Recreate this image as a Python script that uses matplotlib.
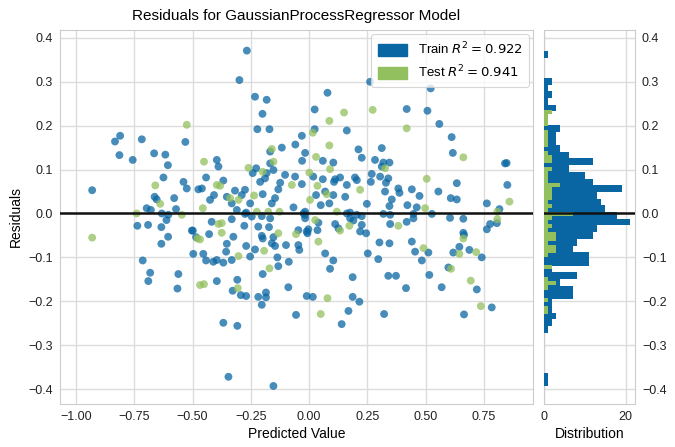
import numpy as np
import matplotlib
matplotlib.use("Agg")
import matplotlib.pyplot as plt
from matplotlib.patches import Patch

plt.rcParams['font.family'] = ['Liberation Sans', 'DejaVu Sans']

# Du lieu doc tu hinh: (gia tri du doan, phan du)
train_x = [-0.811, -0.833, -0.718, -0.531, -0.814, -0.757, -0.665, -0.617, -0.606, -0.625,
           -0.539, -0.525, -0.931, -0.663, -0.654, -0.579, -0.697, -0.679, -0.571, -0.632,
           -0.604, -0.475, -0.612, -0.737, -0.691, -0.634, -0.605, -0.634, -0.503, -0.485,
           -0.497, -0.714, -0.682, -0.690, -0.561, -0.565,
           -0.267, -0.299, -0.232, -0.182, -0.200, -0.222, -0.170, -0.031, -0.059, -0.117,
           -0.167, -0.017, -0.030, -0.167, -0.396, -0.389, -0.227, -0.242, -0.182, -0.153,
           -0.103, -0.210, -0.189, -0.124, -0.060, -0.031, -0.442, -0.368, -0.460, -0.408,
           -0.425, -0.318, -0.275, -0.289, -0.199, -0.132, -0.146, -0.160, -0.353, -0.332,
           -0.253, -0.067, -0.270, -0.017, -0.310,
           -0.275, -0.246, -0.203, -0.167, -0.017, -0.418, -0.332, -0.278, -0.218, -0.172,
           -0.499, -0.429, -0.325, -0.203, -0.199, -0.153, -0.046, -0.010, -0.353, -0.160,
           -0.146, -0.099, -0.046, -0.042, -0.270, -0.232, -0.356, -0.454, -0.253, -0.442,
           -0.411, -0.396, -0.368, -0.332, -0.136, -0.087, -0.132, -0.199, -0.396, -0.308,
           -0.328, -0.293, -0.270, -0.218, -0.185, -0.185, -0.203, -0.089, -0.010, -0.056,
           -0.368, -0.308, -0.346, -0.153,
           0.262, 0.079, 0.024, 0.419, 0.024, 0.162, 0.212, 0.312, 0.226, 0.059,
           0.104, 0.283, 0.319, 0.345, 0.312, 0.018, 0.059, 0.112, 0.133, 0.197,
           0.205, 0.269, 0.265, 0.305, 0.340, 0.330, 0.107, 0.162, 0.069, 0.104,
           0.030, 0.155, 0.326, 0.383, 0.388, 0.441, 0.050, 0.087, 0.248, 0.355,
           0.345, 0.422, 0.176, 0.205, 0.319, 0.448,
           0.462, -0.024, 0.162, 0.226, 0.348, -0.017, 0.040, 0.176, 0.190, 0.419,
           0.348, 0.112, 0.126, 0.226, -0.003, 0.036, -0.007, 0.219, 0.245, 0.302,
           0.345, 0.441, 0.455, 0.069, 0.252, 0.104, 0.297, 0.090, 0.187, 0.340,
           0.373, 0.416, 0.016, 0.187, 0.216, 0.169, 0.322, 0.140,
           0.522, 0.508, 0.559, 0.612, 0.617, 0.841, 0.848, 0.634, 0.555, 0.851,
           0.474, 0.608, 0.634, 0.763, 0.817, 0.527, 0.605, 0.662,
           0.448, 0.777, 0.806, 0.763, 0.662, 0.665, 0.645, 0.512, 0.619, 0.688,
           0.741, 0.484, 0.598, 0.516, 0.569, 0.720, 0.784, 0.665]
train_y = [0.177, 0.164, 0.169, 0.163, 0.133, 0.122, 0.137, 0.134, 0.110, 0.082,
           0.072, 0.057, 0.053, 0.038, 0.032, 0.035, 0.012, 0.008, 0.010, 0.000,
           -0.003, 0.055, -0.015, -0.028, -0.026, -0.031, -0.053, -0.069, -0.039, -0.054,
           -0.092, -0.107, -0.135, -0.154, -0.138, -0.171,
           0.371, 0.304, 0.266, 0.259, 0.227, 0.192, 0.192, 0.177, 0.157, 0.150,
           0.141, 0.138, 0.120, 0.114, 0.122, 0.107, 0.103, 0.092, 0.092, 0.099,
           0.088, 0.072, 0.080, 0.070, 0.084, 0.067, 0.082, 0.075, 0.057, 0.042,
           0.031, 0.052, 0.054, 0.042, 0.044, 0.055, 0.035, 0.023, 0.038, 0.023,
           0.023, 0.014, 0.002, 0.004, 0.008,
           -0.001, -0.007, -0.006, -0.011, -0.003, -0.019, -0.013, -0.028, -0.030, -0.031,
           -0.039, -0.047, -0.053, -0.051, -0.057, -0.054, -0.038, -0.041, -0.069, -0.068,
           -0.074, -0.072, -0.072, -0.083, -0.074, -0.082, -0.087, -0.092, -0.098, -0.107,
           -0.110, -0.106, -0.112, -0.106, -0.100, -0.110, -0.120, -0.138, -0.154, -0.151,
           -0.176, -0.186, -0.188, -0.190, -0.180, -0.191, -0.208, -0.168, -0.188, -0.231,
           -0.249, -0.256, -0.372, -0.393,
           0.300, 0.275, 0.237, 0.238, 0.192, 0.189, 0.146, 0.149, 0.127, 0.120,
           0.116, 0.122, 0.116, 0.116, 0.107, 0.084, 0.078, 0.078, 0.082, 0.082,
           0.076, 0.090, 0.072, 0.084, 0.080, 0.070, 0.072, 0.065, 0.050, 0.042,
           0.042, 0.038, 0.050, 0.057, 0.047, 0.055, 0.019, 0.023, 0.022, 0.032,
           0.017, 0.019, 0.002, -0.003, -0.001, -0.001,
           0.014, 0.000, 0.000, -0.006, -0.003, -0.011, -0.021, -0.011, -0.016, -0.019,
           -0.024, -0.024, -0.034, -0.026, -0.036, -0.038, -0.045, -0.041, -0.045, -0.066,
           -0.068, -0.064, -0.087, -0.091, -0.091, -0.107, -0.104, -0.126, -0.145, -0.142,
           -0.142, -0.170, -0.190, -0.190, -0.201, -0.222, -0.229, -0.252,
           0.285, 0.234, 0.204, 0.174, 0.138, 0.114, 0.115, 0.069, 0.050, 0.065,
           0.040, 0.035, 0.032, 0.023, 0.010, -0.001, -0.010, -0.012,
           -0.011, -0.024, -0.022, -0.036, -0.044, -0.049, -0.076, -0.089, -0.089, -0.083,
           -0.100, -0.107, -0.123, -0.140, -0.168, -0.173, -0.214, -0.230]

test_x = [-0.525, -0.660, -0.639, -0.740, -0.546, -0.931, -0.479, -0.468,
          -0.160, -0.153, -0.451, -0.260, -0.199, -0.074, -0.396, -0.382, -0.236, -0.339,
          -0.303, -0.456, -0.224, -0.175, -0.127,
          -0.389, -0.375, -0.375, -0.132, -0.056, -0.468, -0.193, -0.303, -0.170, -0.451,
          -0.306,
          0.150, 0.273, 0.087, 0.419, 0.016, 0.087, 0.030, 0.090, 0.326, 0.001,
          0.036, 0.219, 0.076, 0.004, 0.119,
          0.026, 0.383, 0.133, 0.173, 0.040, 0.079, 0.050,
          0.662, 0.505, 0.860, 0.498, 0.808,
          0.808, 0.662, 0.491, 0.645, 0.717, 0.609, 0.694, 0.737]
test_y = [0.202, 0.064, 0.022, 0.000, -0.003, -0.055, -0.057, -0.163,
          0.147, 0.118, 0.118, 0.104, 0.095, 0.065, 0.065, 0.063, 0.041, 0.035,
          0.031, 0.012, 0.004, 0.004, 0.004,
          -0.024, -0.022, -0.044, -0.045, -0.047, -0.059, -0.085, -0.097, -0.125, -0.161,
          -0.170,
          0.230, 0.236, 0.211, 0.194, 0.184, 0.155, 0.129, 0.101, 0.103, 0.093,
          0.063, 0.054, 0.044, 0.031, 0.004,
          -0.015, -0.028, -0.039, -0.028, -0.064, -0.193, -0.229,
          0.128, 0.079, 0.027, 0.012, 0.004,
          -0.013, -0.057, -0.079, -0.092, -0.088, -0.126, -0.153, -0.211]

# Bieu do phan phoi: so dem moi bin (50 bin, tu tren xuong)
train_range = (-0.394, 0.370)
train_counts = [1, 0, 0, 0, 2, 1, 2, 1, 3, 1,
                1, 4, 3, 3, 4, 6, 12, 6, 10, 12,
                19, 13, 14, 15, 18, 21, 13, 12, 8, 7,
                11, 11, 2, 8, 4, 7, 7, 2, 2, 3,
                2, 1, 0, 0, 0, 0, 0, 0, 1, 1]
test_range = (-0.229, 0.236)
test_counts = [2, 1, 1, 1, 0, 1, 1, 1, 1, 0,
               1, 2, 2, 0, 2, 1, 1, 1, 4, 2,
               2, 2, 1, 2, 1, 7, 2, 1, 2, 1,
               3, 3, 1, 3, 3, 1, 0, 0, 2, 0,
               0, 1, 3, 1, 0, 0, 1, 0, 1, 1]

train_label = "Train $R^2 = 0.922$"
test_label = "Test $R^2 = 0.941$"
y_ticks = [-0.4, -0.3, -0.2, -0.1, 0.0, 0.1, 0.2, 0.3, 0.4]
y_ticklabels = ['−0.4', '−0.3', '−0.2', '−0.1', '0.0', '0.1', '0.2', '0.3', '0.4']
x_ticks = [-1.0, -0.75, -0.5, -0.25, 0.0, 0.25, 0.5, 0.75]
x_ticklabels = ['−1.00', '−0.75', '−0.50', '−0.25', '0.00', '0.25', '0.50', '0.75']

blue = '#0a66a3'
green = '#93c05e'
grid_c = '#dcdcdc'

fig = plt.figure(figsize=(6.75, 4.47), dpi=100)
ax = fig.add_axes([0.0889, 0.0962, 0.7007, 0.8367])
hax = fig.add_axes([0.806, 0.0962, 0.1348, 0.8367])

# Bieu do phan du
ax.scatter(train_x, train_y, s=32, color=blue, alpha=0.75, edgecolors='none', zorder=3)
ax.scatter(test_x, test_y, s=32, color=green, alpha=0.75, edgecolors='none', zorder=3)
ax.axhline(0, color='#111111', lw=1.8, zorder=4)

ax.set_xlim(-1.069, 0.961)
ax.set_ylim(-0.434, 0.418)
ax.set_xticks(x_ticks)
ax.set_xticklabels(x_ticklabels)
ax.set_yticks(y_ticks)
ax.set_yticklabels(y_ticklabels)
ax.set_xlabel('Predicted Value', fontsize=10, labelpad=3)
ax.set_ylabel('Residuals', fontsize=10, labelpad=4)
ax.set_title('Residuals for GaussianProcessRegressor Model', fontsize=11, pad=7)

leg = ax.legend([Patch(color=blue), Patch(color=green)], [train_label, test_label],
                loc='upper right', fontsize=9.5, frameon=True, borderaxespad=0.3,
                handlelength=2.2, handleheight=1.0, borderpad=0.5)
leg.get_frame().set_edgecolor('#cccccc')
leg.get_frame().set_linewidth(0.8)

# Bieu do phan phoi ngang
tr_edges = np.linspace(train_range[1], train_range[0], len(train_counts) + 1)
te_edges = np.linspace(test_range[1], test_range[0], len(test_counts) + 1)
hax.barh(tr_edges[1:], train_counts, height=-np.diff(tr_edges), align='edge',
         color=blue, zorder=3)
hax.barh(te_edges[1:], test_counts, height=-np.diff(te_edges), align='edge',
         color=green, zorder=3)
hax.axhline(0, color='#111111', lw=1.8, zorder=4)
hax.set_ylim(ax.get_ylim())
hax.set_xlim(0, 22.3)
hax.set_xticks([0, 20])
hax.set_yticks(y_ticks)
hax.set_yticklabels(y_ticklabels)
hax.yaxis.tick_right()
hax.set_xlabel('Distribution', fontsize=10, labelpad=3)

for a in (ax, hax):
    a.grid(True, color=grid_c, lw=1.0, zorder=0)
    a.set_axisbelow(True)
    for s in a.spines.values():
        s.set_color('#cccccc')
    a.tick_params(length=0, labelsize=9, pad=5, colors='#222222')

fig.savefig('out.png', dpi=100)
